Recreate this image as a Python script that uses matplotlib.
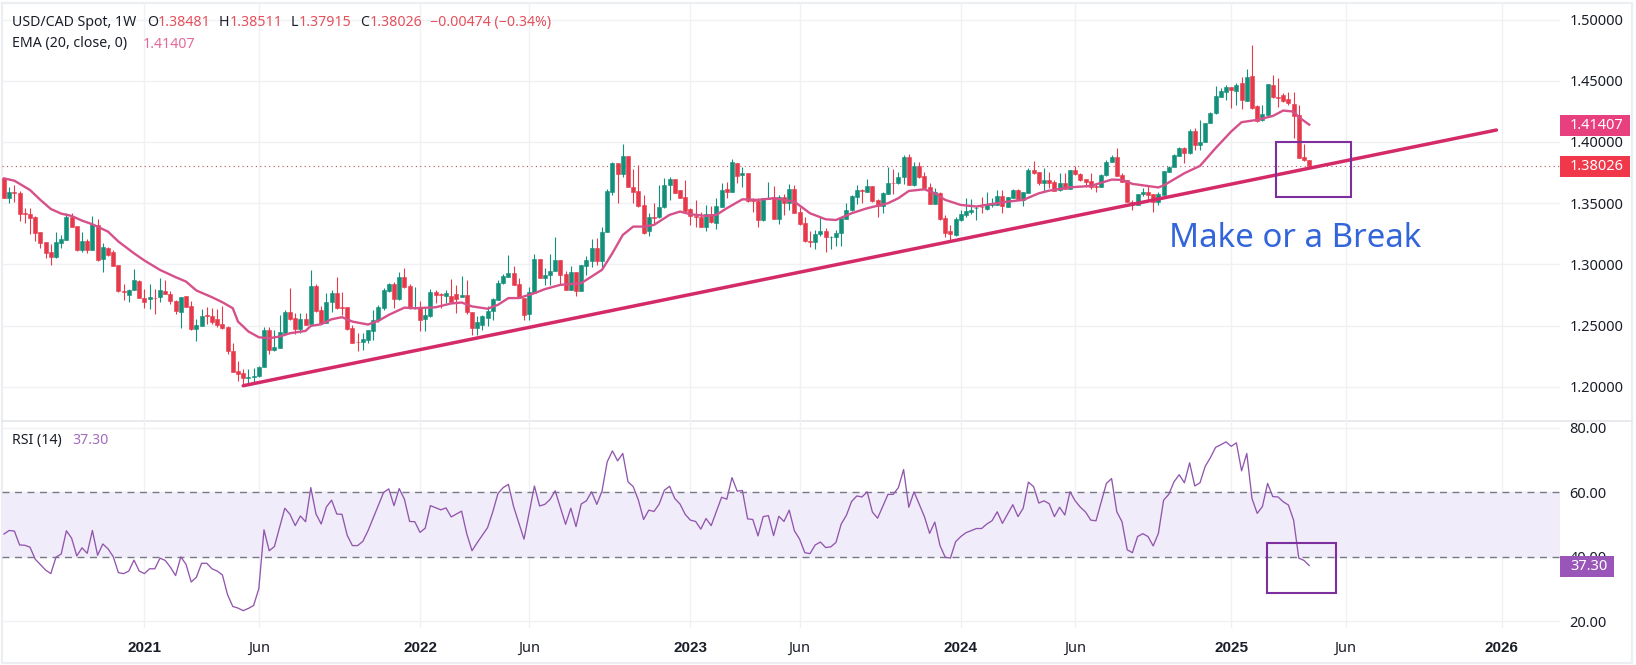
import matplotlib
matplotlib.use('Agg')
import matplotlib.pyplot as plt
from matplotlib.patches import Rectangle
import numpy as np

plt.rcParams['font.family'] = ['Noto Sans', 'DejaVu Sans']

# weekly candles, one value per bar
opens = [
    1.3702, 1.3542, 1.3591, 1.3583, 1.3422, 1.3411, 1.3387, 1.3262, 1.3180, 1.3099,
    1.3061, 1.3177, 1.3202, 1.3390, 1.3313, 1.3118, 1.3191, 1.3120, 1.3319, 1.3047,
    1.3134, 1.3101, 1.2995, 1.2780, 1.2753, 1.2789, 1.2865, 1.2723, 1.2715, 1.2726,
    1.2729, 1.2783, 1.2756, 1.2701, 1.2614, 1.2740, 1.2661, 1.2473, 1.2500, 1.2582,
    1.2579, 1.2555, 1.2514, 1.2487, 1.2290, 1.2130, 1.2111, 1.2067, 1.2078, 1.2089,
    1.2157, 1.2464, 1.2296, 1.2315, 1.2442, 1.2611, 1.2559, 1.2472, 1.2551, 1.2516,
    1.2823, 1.2627, 1.2521, 1.2690, 1.2766, 1.2649, 1.2652, 1.2480, 1.2366, 1.2369,
    1.2383, 1.2459, 1.2546, 1.2641, 1.2785, 1.2839, 1.2717, 1.2894, 1.2820, 1.2641,
    1.2649, 1.2557, 1.2576, 1.2774, 1.2755, 1.2739, 1.2737, 1.2759, 1.2729, 1.2751,
    1.2612, 1.2479, 1.2506, 1.2560, 1.2615, 1.2710, 1.2846, 1.2900, 1.2928, 1.2840,
    1.2724, 1.2593, 1.2764, 1.3045, 1.2892, 1.2909, 1.2947, 1.3036, 1.2919, 1.2792,
    1.2936, 1.2778, 1.2987, 1.3028, 1.3132, 1.3031, 1.3262, 1.3594, 1.3825, 1.3738,
    1.3885, 1.3635, 1.3597, 1.3482, 1.3276, 1.3385, 1.3385, 1.3466, 1.3648, 1.3695,
    1.3608, 1.3553, 1.3450, 1.3395, 1.3385, 1.3308, 1.3412, 1.3341, 1.3472, 1.3613,
    1.3594, 1.3828, 1.3727, 1.3744, 1.3526, 1.3515, 1.3363, 1.3534, 1.3548, 1.3374,
    1.3548, 1.3504, 1.3613, 1.3428, 1.3336, 1.3194, 1.3181, 1.3246, 1.3270, 1.3219,
    1.3219, 1.3254, 1.3371, 1.3444, 1.3553, 1.3608, 1.3594, 1.3640, 1.3526, 1.3477,
    1.3575, 1.3667, 1.3662, 1.3711, 1.3877, 1.3648, 1.3803, 1.3722, 1.3635, 1.3493,
    1.3580, 1.3376, 1.3268, 1.3238, 1.3363, 1.3406, 1.3428, 1.3458, 1.3472, 1.3450,
    1.3482, 1.3488, 1.3559, 1.3472, 1.3542, 1.3608, 1.3526, 1.3586, 1.3768, 1.3752,
    1.3667, 1.3689, 1.3673, 1.3608, 1.3662, 1.3618, 1.3768, 1.3738, 1.3695, 1.3678,
    1.3640, 1.3635, 1.3727, 1.3834, 1.3875, 1.3731, 1.3685, 1.3513, 1.3486, 1.3576,
    1.3587, 1.3573, 1.3513, 1.3570, 1.3755, 1.3799, 1.3886, 1.3949, 1.3908, 1.4093,
    1.3976, 1.4003, 1.4158, 1.4234, 1.4370, 1.4411, 1.4446, 1.4419, 1.4479, 1.4337,
    1.4539, 1.4294, 1.4177, 1.4221, 1.4465, 1.4367, 1.4384, 1.4348, 1.4310, 1.4218,
    1.3875, 1.38481,
]
highs = [
    1.3702, 1.3634, 1.3648, 1.3599, 1.3463, 1.3458, 1.3395, 1.3262, 1.3180, 1.3167,
    1.3262, 1.3240, 1.3417, 1.3417, 1.3313, 1.3262, 1.3205, 1.3395, 1.3368, 1.3172,
    1.3139, 1.3118, 1.2995, 1.2840, 1.2802, 1.2963, 1.2873, 1.2799, 1.2840, 1.2799,
    1.2886, 1.2873, 1.2783, 1.2710, 1.2734, 1.2742, 1.2701, 1.2555, 1.2634, 1.2653,
    1.2639, 1.2636, 1.2661, 1.2492, 1.2355, 1.2214, 1.2143, 1.2143, 1.2151, 1.2170,
    1.2486, 1.2486, 1.2464, 1.2587, 1.2627, 1.2804, 1.2606, 1.2600, 1.2600, 1.2954,
    1.2837, 1.2660, 1.2763, 1.2791, 1.2897, 1.2777, 1.2655, 1.2505, 1.2437, 1.2437,
    1.2464, 1.2627, 1.2668, 1.2804, 1.2845, 1.2859, 1.2935, 1.2967, 1.2839, 1.2812,
    1.2701, 1.2655, 1.2796, 1.2791, 1.2763, 1.2791, 1.2881, 1.2832, 1.2906, 1.2873,
    1.2612, 1.2574, 1.2585, 1.2656, 1.2724, 1.2873, 1.2922, 1.3074, 1.2987, 1.2887,
    1.2724, 1.2813, 1.3085, 1.3045, 1.2968, 1.3085, 1.3221, 1.3036, 1.2947, 1.2987,
    1.2941, 1.2996, 1.3069, 1.3208, 1.3213, 1.3308, 1.3613, 1.3833, 1.3825, 1.3983,
    1.3885, 1.3776, 1.3812, 1.3567, 1.3417, 1.3499, 1.3648, 1.3703, 1.3716, 1.3700,
    1.3608, 1.3689, 1.3458, 1.3526, 1.3425, 1.3485, 1.3477, 1.3540, 1.3667, 1.3676,
    1.3860, 1.3831, 1.3798, 1.3744, 1.3540, 1.3540, 1.3545, 1.3670, 1.3640, 1.3567,
    1.3575, 1.3654, 1.3648, 1.3466, 1.3385, 1.3268, 1.3281, 1.3385, 1.3295, 1.3232,
    1.3281, 1.3390, 1.3504, 1.3567, 1.3648, 1.3613, 1.3697, 1.3640, 1.3531, 1.3594,
    1.3793, 1.3776, 1.3757, 1.3893, 1.3899, 1.3839, 1.3839, 1.3757, 1.3662, 1.3621,
    1.3594, 1.3404, 1.3322, 1.3385, 1.3444, 1.3540, 1.3534, 1.3477, 1.3553, 1.3591,
    1.3540, 1.3608, 1.3608, 1.3553, 1.3613, 1.3613, 1.3589, 1.3784, 1.3844, 1.3757,
    1.3790, 1.3757, 1.3689, 1.3744, 1.3744, 1.3771, 1.3803, 1.3749, 1.3695, 1.3749,
    1.3662, 1.3738, 1.3852, 1.3894, 1.3949, 1.3744, 1.3685, 1.3527, 1.3576, 1.3622,
    1.3636, 1.3576, 1.3587, 1.3766, 1.3804, 1.3900, 1.3957, 1.3957, 1.4104, 1.4112,
    1.4180, 1.4158, 1.4248, 1.4460, 1.4444, 1.4465, 1.4452, 1.4479, 1.4528, 1.4593,
    1.4792, 1.4302, 1.4302, 1.4471, 1.4547, 1.4520, 1.4397, 1.4411, 1.4411, 1.4302,
    1.3984, 1.38511,
]
lows = [
    1.3545, 1.3498, 1.3507, 1.3357, 1.3341, 1.3245, 1.3194, 1.3137, 1.3055, 1.2998,
    1.3055, 1.3137, 1.3202, 1.3303, 1.3109, 1.3104, 1.3090, 1.3120, 1.3031, 1.2935,
    1.3071, 1.2984, 1.2772, 1.2710, 1.2696, 1.2789, 1.2721, 1.2639, 1.2631, 1.2598,
    1.2696, 1.2759, 1.2674, 1.2593, 1.2476, 1.2650, 1.2465, 1.2370, 1.2492, 1.2514,
    1.2514, 1.2487, 1.2470, 1.2269, 1.2119, 1.2048, 1.2015, 1.2026, 1.2034, 1.2083,
    1.2157, 1.2266, 1.2288, 1.2315, 1.2442, 1.2546, 1.2429, 1.2437, 1.2502, 1.2508,
    1.2614, 1.2513, 1.2519, 1.2614, 1.2638, 1.2587, 1.2464, 1.2355, 1.2293, 1.2301,
    1.2355, 1.2383, 1.2532, 1.2627, 1.2777, 1.2641, 1.2709, 1.2804, 1.2635, 1.2635,
    1.2459, 1.2459, 1.2568, 1.2682, 1.2641, 1.2682, 1.2683, 1.2601, 1.2729, 1.2596,
    1.2424, 1.2424, 1.2465, 1.2492, 1.2547, 1.2710, 1.2841, 1.2900, 1.2830, 1.2724,
    1.2547, 1.2547, 1.2764, 1.2887, 1.2827, 1.2832, 1.2947, 1.2832, 1.2792, 1.2792,
    1.2737, 1.2778, 1.2914, 1.2982, 1.2996, 1.2968, 1.3262, 1.3567, 1.3504, 1.3716,
    1.3629, 1.3504, 1.3472, 1.3249, 1.3235, 1.3322, 1.3376, 1.3458, 1.3526, 1.3580,
    1.3540, 1.3423, 1.3325, 1.3308, 1.3303, 1.3268, 1.3336, 1.3287, 1.3472, 1.3540,
    1.3594, 1.3662, 1.3635, 1.3512, 1.3431, 1.3308, 1.3357, 1.3534, 1.3371, 1.3327,
    1.3404, 1.3444, 1.3417, 1.3317, 1.3186, 1.3145, 1.3123, 1.3232, 1.3099, 1.3129,
    1.3151, 1.3153, 1.3371, 1.3439, 1.3493, 1.3504, 1.3588, 1.3507, 1.3385, 1.3417,
    1.3575, 1.3575, 1.3657, 1.3657, 1.3648, 1.3640, 1.3708, 1.3616, 1.3493, 1.3493,
    1.3363, 1.3221, 1.3194, 1.3232, 1.3357, 1.3390, 1.3412, 1.3363, 1.3417, 1.3444,
    1.3472, 1.3485, 1.3423, 1.3466, 1.3540, 1.3526, 1.3477, 1.3586, 1.3735, 1.3648,
    1.3602, 1.3621, 1.3597, 1.3602, 1.3613, 1.3613, 1.3730, 1.3684, 1.3629, 1.3616,
    1.3594, 1.3629, 1.3722, 1.3834, 1.3723, 1.3676, 1.3505, 1.3445, 1.3481, 1.3554,
    1.3527, 1.3424, 1.3481, 1.3568, 1.3753, 1.3793, 1.3881, 1.3831, 1.3902, 1.3935,
    1.3935, 1.3997, 1.4152, 1.4229, 1.4365, 1.4343, 1.4275, 1.4302, 1.4267, 1.4337,
    1.4269, 1.4166, 1.4172, 1.4212, 1.4357, 1.4289, 1.4329, 1.4302, 1.4030, 1.3867,
    1.3840, 1.37915,
]
closes = [
    1.3545, 1.3591, 1.3580, 1.3414, 1.3414, 1.3381, 1.3259, 1.3177, 1.3096, 1.3063,
    1.3180, 1.3205, 1.3387, 1.3308, 1.3118, 1.3188, 1.3118, 1.3327, 1.3039, 1.3139,
    1.3077, 1.2987, 1.2778, 1.2772, 1.2791, 1.2873, 1.2726, 1.2696, 1.2731, 1.2723,
    1.2789, 1.2761, 1.2704, 1.2622, 1.2734, 1.2655, 1.2468, 1.2503, 1.2579, 1.2576,
    1.2525, 1.2508, 1.2476, 1.2288, 1.2124, 1.2105, 1.2067, 1.2081, 1.2089, 1.2162,
    1.2464, 1.2296, 1.2325, 1.2445, 1.2611, 1.2557, 1.2472, 1.2551, 1.2508, 1.2823,
    1.2622, 1.2519, 1.2693, 1.2769, 1.2644, 1.2644, 1.2472, 1.2361, 1.2363, 1.2388,
    1.2464, 1.2546, 1.2649, 1.2791, 1.2839, 1.2717, 1.2899, 1.2812, 1.2641, 1.2646,
    1.2546, 1.2584, 1.2774, 1.2752, 1.2750, 1.2766, 1.2696, 1.2715, 1.2751, 1.2607,
    1.2482, 1.2530, 1.2574, 1.2615, 1.2715, 1.2846, 1.2906, 1.2928, 1.2832, 1.2724,
    1.2588, 1.2773, 1.3045, 1.2892, 1.2914, 1.2947, 1.3036, 1.2914, 1.2792, 1.2936,
    1.2778, 1.2996, 1.3036, 1.3132, 1.3031, 1.3262, 1.3599, 1.3831, 1.3738, 1.3885,
    1.3635, 1.3591, 1.3477, 1.3259, 1.3385, 1.3379, 1.3466, 1.3648, 1.3700, 1.3586,
    1.3540, 1.3439, 1.3395, 1.3385, 1.3308, 1.3412, 1.3344, 1.3477, 1.3608, 1.3594,
    1.3833, 1.3725, 1.3744, 1.3521, 1.3521, 1.3363, 1.3540, 1.3545, 1.3374, 1.3548,
    1.3504, 1.3613, 1.3423, 1.3330, 1.3194, 1.3181, 1.3246, 1.3270, 1.3219, 1.3224,
    1.3254, 1.3379, 1.3444, 1.3561, 1.3608, 1.3600, 1.3640, 1.3521, 1.3477, 1.3580,
    1.3662, 1.3662, 1.3711, 1.3880, 1.3648, 1.3803, 1.3716, 1.3621, 1.3493, 1.3594,
    1.3368, 1.3259, 1.3246, 1.3368, 1.3412, 1.3433, 1.3444, 1.3463, 1.3466, 1.3488,
    1.3499, 1.3559, 1.3477, 1.3548, 1.3608, 1.3531, 1.3589, 1.3771, 1.3749, 1.3667,
    1.3689, 1.3667, 1.3602, 1.3667, 1.3618, 1.3768, 1.3735, 1.3689, 1.3676, 1.3635,
    1.3635, 1.3733, 1.3836, 1.3875, 1.3725, 1.3676, 1.3505, 1.3486, 1.3576, 1.3587,
    1.3568, 1.3513, 1.3576, 1.3761, 1.3799, 1.3894, 1.3949, 1.3913, 1.4093, 1.3976,
    1.4003, 1.4152, 1.4234, 1.4376, 1.4416, 1.4452, 1.4427, 1.4463, 1.4343, 1.4533,
    1.4275, 1.4172, 1.4229, 1.4471, 1.4365, 1.4362, 1.4338, 1.4316, 1.4212, 1.3872,
    1.3851, 1.38026,
]

# EMA 20, sampled where the curve could be read
ema_bars = [0, 2, 5, 7, 9, 11, 13, 15, 17, 20, 22, 25, 27, 30, 33, 35, 37, 40, 42, 44,
            45, 47, 49, 51, 53, 55, 58, 59, 61, 63, 65, 67, 70, 72, 74, 77, 79, 83, 86,
            88, 90, 93, 95, 97, 99, 102, 104, 107, 111, 113, 115, 117, 119, 121, 123,
            125, 128, 130, 132, 135, 137, 139, 142, 145, 148, 152, 155, 158, 160, 163,
            166, 170, 172, 174, 177, 179, 181, 184, 187, 190, 193, 196, 199, 201, 205,
            209, 213, 215, 217, 222, 223, 227, 230, 233, 236, 238, 241, 244, 246, 248,
            249, 251]
ema_vals = [1.3702, 1.3683, 1.3607, 1.3526, 1.3452, 1.3414, 1.3395, 1.3357, 1.3327, 1.3267,
            1.3186, 1.3090, 1.3031, 1.2954, 1.2895, 1.2859, 1.2786, 1.2731, 1.2690, 1.2641,
            1.2532, 1.2451, 1.2404, 1.2396, 1.2410, 1.2437, 1.2456, 1.2497, 1.2510, 1.2551,
            1.2568, 1.2532, 1.2508, 1.2538, 1.2587, 1.2646, 1.2641, 1.2649, 1.2680,
            1.2688, 1.2656, 1.2637, 1.2669, 1.2724, 1.2724, 1.2764, 1.2797, 1.2832,
            1.2846, 1.2900, 1.2955, 1.3091, 1.3240, 1.3308, 1.3308, 1.3322, 1.3404,
            1.3431, 1.3409, 1.3395, 1.3404, 1.3458, 1.3531, 1.3526, 1.3540, 1.3512,
            1.3417, 1.3368, 1.3362, 1.3417, 1.3458, 1.3499, 1.3540, 1.3599, 1.3613,
            1.3580, 1.3526, 1.3485, 1.3472, 1.3493, 1.3512, 1.3526, 1.3580, 1.3602,
            1.3629, 1.3640, 1.3692, 1.3690, 1.3657, 1.3628, 1.3644, 1.3744, 1.3804,
            1.3949, 1.4085, 1.4161, 1.4180, 1.4212, 1.4256, 1.4248, 1.4202, 1.41407]

# RSI 14, the turning points of the line
rsi_bars = [0, 1, 2, 3, 4, 5, 6, 8, 9, 10, 11, 12, 13, 14, 15, 16, 17, 18, 19, 20, 21, 22, 23,
            24, 25, 26, 27, 28, 29, 30, 31, 32, 33, 34, 35, 36, 37, 38, 39, 40, 41, 42, 43,
            44, 45, 46, 47, 48, 49, 50, 51, 52, 54, 55, 56, 57, 58, 59, 60, 61, 62, 63, 64,
            65, 66, 67, 68, 69, 70, 73, 74, 75, 76, 77, 78, 79, 80, 81, 82, 84, 85, 86, 88,
            89, 90, 91, 93, 94, 95, 96, 97, 98, 100, 102, 103, 104, 105, 106, 108, 109, 110,
            111, 112, 113, 114, 115, 116, 117, 118, 119, 120, 121, 122, 123, 124, 125, 126,
            127, 128, 129, 130, 131, 132, 133, 134, 135, 136, 138, 139, 140, 141, 142, 143,
            144, 145, 146, 147, 148, 149, 150, 151, 152, 153, 154, 155, 156, 157, 158, 159,
            160, 161, 162, 163, 164, 165, 166, 167, 168, 170, 171, 172, 173, 174, 175, 177,
            178, 179, 180, 181, 182, 183, 184, 185, 187, 188, 189, 190, 191, 192, 194, 195,
            196, 197, 198, 199, 200, 201, 202, 203, 204, 205, 206, 207, 208, 209, 210, 212,
            213, 214, 215, 216, 217, 218, 219, 220, 221, 222, 223, 224, 225, 226, 227, 228,
            229, 230, 231, 232, 233, 234, 235, 236, 237, 238, 239, 240, 241, 242, 243, 244,
            245, 246, 247, 248, 249, 250, 251]
rsi_vals = [47.1, 48.2, 48.0, 43.7, 43.6, 43.0, 39.3, 35.9, 34.8, 39.9, 40.9, 48.1, 45.8, 40.3,
            42.8, 41.1, 48.2, 40.5, 44.0, 42.5, 40.1, 35.1, 34.8, 35.6, 39.0, 35.6, 34.8, 36.3,
            36.3, 39.6, 38.9, 36.8, 34.2, 40.0, 37.7, 32.2, 33.7, 38.0, 38.0, 36.3, 35.6, 34.4,
            28.2, 24.6, 24.1, 23.3, 24.0, 24.9, 30.1, 48.4, 41.9, 43.2, 55.1, 53.2, 49.7, 52.7,
            50.9, 61.5, 53.3, 50.2, 55.5, 57.6, 53.3, 53.2, 46.7, 43.5, 43.5, 44.8, 48.1, 60.0,
            61.1, 55.9, 61.2, 57.9, 51.0, 50.9, 47.6, 48.9, 55.9, 54.6, 55.2, 52.4, 54.2, 47.1,
            41.9, 44.4, 49.1, 54.0, 59.7, 61.5, 62.5, 55.6, 45.5, 62.0, 55.8, 56.3, 57.8, 60.5,
            50.1, 55.1, 49.4, 56.4, 57.4, 60.2, 56.3, 60.4, 69.5, 72.9, 69.8, 72.1, 63.3, 61.8,
            57.6, 51.6, 54.5, 54.1, 56.4, 60.7, 61.9, 58.1, 56.4, 53.2, 51.4, 51.0, 48.6, 51.9,
            49.7, 58.5, 57.9, 64.6, 60.4, 60.6, 51.8, 51.6, 46.5, 52.5, 52.8, 46.6, 52.6, 51.0,
            54.5, 48.1, 45.5, 41.3, 41.0, 43.7, 44.6, 42.9, 43.1, 44.5, 50.2, 52.9, 57.2, 58.9,
            58.6, 60.2, 53.9, 52.0, 59.4, 59.4, 61.5, 67.1, 55.4, 60.2, 52.5, 47.3, 50.8, 43.5,
            39.9, 39.6, 44.7, 46.3, 47.5, 48.8, 48.8, 50.2, 51.2, 54.0, 50.4, 56.2, 52.5, 55.1,
            63.2, 61.8, 56.7, 57.4, 56.5, 52.5, 55.4, 53.0, 60.2, 57.4, 55.4, 53.9, 51.4, 51.2,
            62.8, 64.3, 54.0, 50.9, 42.2, 41.3, 46.3, 47.2, 46.3, 43.4, 47.3, 57.6, 59.4, 63.3,
            65.5, 63.0, 69.2, 62.0, 63.0, 68.1, 70.8, 74.0, 74.8, 75.7, 74.3, 75.4, 66.7, 72.1,
            58.1, 53.5, 55.6, 62.8, 58.7, 58.6, 57.1, 56.1, 51.4, 39.6, 38.9, 37.30]

# trendline and the two highlight boxes
trend_bars = [46, 287]
trend_vals = [1.2008, 1.4097]
price_box_bars = [244.7, 259.0]
price_box_vals = [1.3550, 1.4002]
rsi_box_bars = [242.8, 256.1]
rsi_box_vals = [28.7, 44.3]

price_ticks = [1.20, 1.25, 1.30, 1.35, 1.40, 1.45, 1.50]
rsi_ticks = [20, 40, 60, 80]
time_tick_bars = [27, 49, 80, 101, 132, 153, 184, 206, 236, 258, 288]
time_tick_labels = ['2021', 'Jun', '2022', 'Jun', '2023', 'Jun', '2024', 'Jun', '2025', 'Jun', '2026']

last_price = 1.38026
last_ema = 1.41407
last_rsi = 37.30

UP = '#12907a'
DOWN = '#e63a4c'
EMA_COL = '#d6508a'
TREND_COL = '#d42a68'
BOX_COL = '#7d2f9e'
RSI_COL = '#9256ad'
GRID = '#f0f1f5'
TEXT = '#1a1e29'

W, H = 1636, 665


def pane(fig, left, top, right, bottom):
    return fig.add_axes([left / W, 1 - bottom / H, (right - left) / W, (bottom - top) / H])


def style_pane(ax, yticks):
    for side in ax.spines:
        ax.spines[side].set_visible(False)
    ax.set_xlim((2 - 4) / 5.2, (1560 - 4) / 5.2)
    ax.set_xticks(time_tick_bars)
    ax.set_yticks(yticks)
    ax.yaxis.tick_right()
    ax.grid(True, color=GRID, linewidth=1.0)
    ax.set_axisbelow(True)
    ax.tick_params(axis='y', length=0, pad=7, labelsize=10.5, labelcolor=TEXT)
    ax.patch.set_alpha(0)


fig = plt.figure(figsize=(W / 100, H / 100), dpi=100, facecolor='white')

# chart frame, pixel coordinates
frame = fig.add_axes([0, 0, 1, 1])
frame.set_xlim(0, W)
frame.set_ylim(H, 0)
frame.axis('off')
frame.plot([2, 1632, 1632, 2, 2], [3, 3, 663, 663, 3], color='#eceef2', linewidth=1.6)
frame.plot([2, 1632], [420.5, 420.5], color='#e4e6ea', linewidth=1.2)

# --- price pane ---
ax = pane(fig, 2, 3, 1560, 420.5)
style_pane(ax, price_ticks)
ax.set_ylim(1.5 - (420.5 - 19.5) / 1224, 1.5 + (19.5 - 3) / 1224)
ax.set_yticklabels(['%.5f' % v for v in price_ticks])
ax.tick_params(axis='x', length=0, labelbottom=False)

bars = np.arange(len(opens))
o, h, l, c = map(np.array, (opens, highs, lows, closes))
colors = [UP if cl >= op else DOWN for op, cl in zip(o, c)]
ax.axhline(last_price, color='#b8505a', linewidth=0.8, linestyle=(0, (1, 3)), zorder=1)
ax.vlines(bars, l, h, colors=colors, linewidth=0.8, zorder=2)
ax.bar(bars, np.abs(c - o), bottom=np.minimum(o, c), width=0.78, color=colors,
       edgecolor=colors, linewidth=0.4, zorder=3)
ax.plot(ema_bars, ema_vals, color=EMA_COL, linewidth=1.7, zorder=4)
ax.plot(trend_bars, trend_vals, color=TREND_COL, linewidth=2.5, zorder=5, solid_capstyle='round')
ax.add_patch(Rectangle((price_box_bars[0], price_box_vals[0]), price_box_bars[1] - price_box_bars[0],
                       price_box_vals[1] - price_box_vals[0], fill=False, edgecolor=BOX_COL,
                       linewidth=1.5, zorder=6))

# --- RSI pane ---
ax2 = pane(fig, 2, 420.5, 1560, 628)
style_pane(ax2, rsi_ticks)
ax2.set_ylim(20 - (628 - 621.3) / 3.222, 80 + (428 - 420.5) / 3.222)
ax2.set_yticklabels(['%.2f' % v for v in rsi_ticks])
ax2.axhspan(40, 60, color='#f0ecf9', linewidth=0, zorder=1)
ax2.axhline(60, color='#787b86', linewidth=1, linestyle=(0, (5, 4)), zorder=2)
ax2.axhline(40, color='#787b86', linewidth=1, linestyle=(0, (5, 4)), zorder=2)
ax2.plot(rsi_bars, rsi_vals, color=RSI_COL, linewidth=0.95, zorder=3)
ax2.add_patch(Rectangle((rsi_box_bars[0], rsi_box_vals[0]), rsi_box_bars[1] - rsi_box_bars[0],
                        rsi_box_vals[1] - rsi_box_vals[0], fill=False, edgecolor=BOX_COL,
                        linewidth=1.5, zorder=6))
ax2.set_xticklabels(time_tick_labels)
ax2.tick_params(axis='x', length=0, pad=9, labelsize=10.5, labelcolor=TEXT)
for lab in ax2.get_xticklabels():
    if lab.get_text() != 'Jun':
        lab.set_family(['Liberation Sans', 'DejaVu Sans'])
        lab.set_fontweight('bold')
        lab.set_fontsize(11)

# --- texts and labels on top, pixel coordinates ---
top = fig.add_axes([0, 0, 1, 1], zorder=10)
top.set_xlim(0, W)
top.set_ylim(H, 0)
top.axis('off')


def label(x, y, s, color=TEXT, size=10.5, **kw):
    top.text(x, y, s, color=color, fontsize=size, va='center', ha='left', **kw)


PRICE_RED = '#e4505c'
label(12, 22.7, 'USD/CAD Spot, 1W', size=10.2)
for x, s, col in [(147.3, 'O', TEXT), (158, '1.38481', PRICE_RED), (219, 'H', TEXT), (229.6, '1.38511', PRICE_RED),
                  (290.9, 'L', TEXT), (298.5, '1.37915', PRICE_RED), (359.7, 'C', TEXT), (369.3, '1.38026', PRICE_RED),
                  (430.5, '−0.00474 (−0.34%)', PRICE_RED)]:
    label(x, 22.7, s, color=col, size=10.2)
label(12, 44, 'EMA (20, close, 0)', size=10.2)
label(142.4, 44, '1.41407', color='#e4699a', size=10.2)
label(12, 440.7, 'RSI (14)', size=10.2)
label(72.7, 440.7, '37.30', color='#a06cbc', size=10.2)

top.text(1169, 247, 'Make or a Break', color='#3365da', fontsize=23.8, va='baseline', ha='left')

top.add_patch(Rectangle((1559.6, 115), 70, 20.7, facecolor='#e8407f', edgecolor='none'))
label(1570, 125.4, '1.41407', color='white', size=10.5)
top.add_patch(Rectangle((1559.6, 156), 70, 20.7, facecolor='#f0384a', edgecolor='none'))
label(1570, 166.4, '1.38026', color='white', size=10.5)
top.add_patch(Rectangle((1559.6, 556), 54, 20.7, facecolor='#9a55b8', edgecolor='none'))
label(1570, 566.4, '37.30', color='white', size=10.5)

fig.savefig('out.png', dpi=100, facecolor='white')
